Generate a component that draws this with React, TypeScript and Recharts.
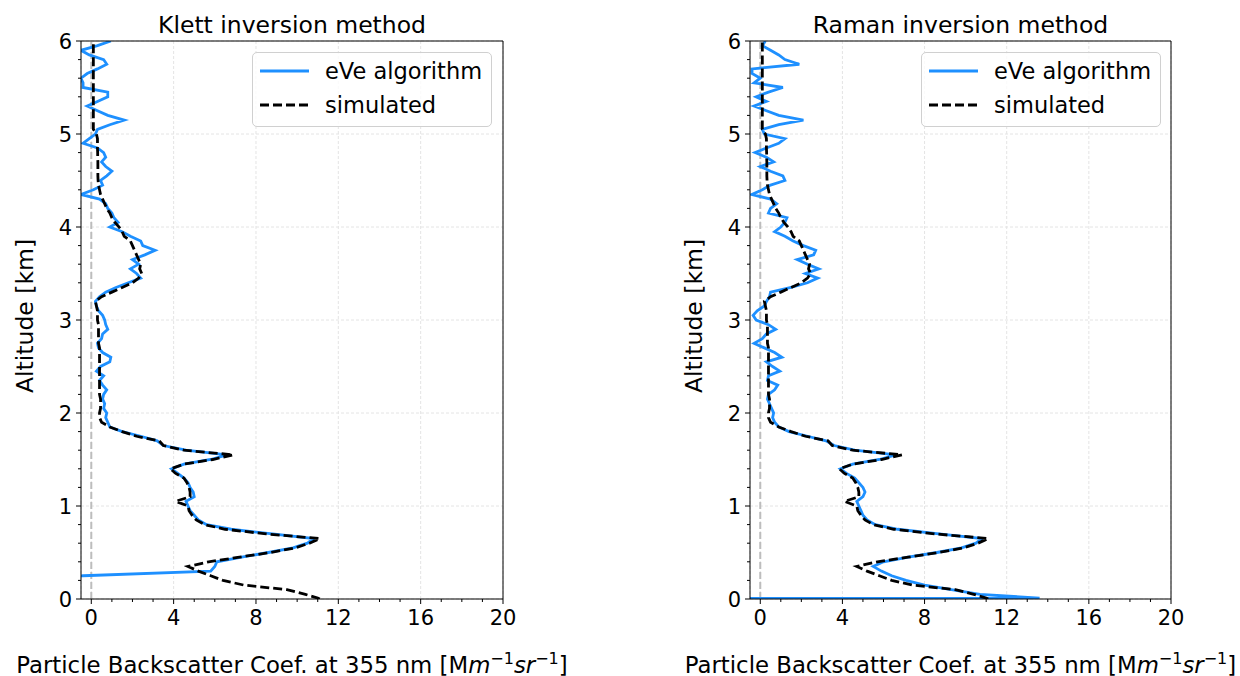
import React from 'react';
import { LineChart, Line, XAxis, YAxis, CartesianGrid, ReferenceLine } from 'recharts';

// altitude grid [km], bottom to top
const ALTITUDE = [
  0, 0.01, 0.05, 0.1, 0.15, 0.2, 0.25, 0.3, 0.35, 0.4, 0.45,
  0.5, 0.55, 0.6, 0.65, 0.7, 0.75, 0.8, 0.85, 0.9, 0.95,
  1.0, 1.05, 1.1, 1.15, 1.2, 1.25, 1.3, 1.35, 1.4, 1.45,
  1.5, 1.55, 1.6, 1.65, 1.7, 1.75, 1.8, 1.85, 1.9, 1.95,
  2.0, 2.05, 2.1, 2.15, 2.2, 2.25, 2.3, 2.35, 2.4, 2.45,
  2.5, 2.55, 2.6, 2.65, 2.7, 2.75, 2.8, 2.85, 2.9, 2.95,
  3.0, 3.05, 3.1, 3.15, 3.2, 3.25, 3.3, 3.35, 3.4, 3.45,
  3.5, 3.55, 3.6, 3.65, 3.7, 3.75, 3.8, 3.85, 3.9, 3.95,
  4.0, 4.05, 4.1, 4.15, 4.2, 4.25, 4.3, 4.35, 4.4, 4.45,
  4.5, 4.55, 4.6, 4.65, 4.7, 4.75, 4.8, 4.85, 4.9, 4.95,
  5.0, 5.05, 5.1, 5.15, 5.2, 5.25, 5.3, 5.35, 5.4, 5.45,
  5.5, 5.55, 5.6, 5.65, 5.7, 5.75, 5.8, 5.85, 5.9, 5.95,
  6.0,
];

// simulated backscatter (same profile in both panels)
const SIMULATED = [
  11.1, 11.0, 10.4, 9.5, 7.4, 6.4, 5.8, 5.2, 4.7, 5.7, 7.2,
  8.7, 9.9, 10.6, 11.1, 8.5, 6.5, 5.5, 5.1, 4.9, 4.75,
  4.7, 4.1, 4.8, 4.8, 4.75, 4.65, 4.5, 4.1, 3.85, 4.5,
  5.9, 6.9, 4.5, 3.5, 3.3, 2.2, 1.5, 0.9, 0.5, 0.4,
  0.4, 0.45, 0.45, 0.45, 0.4, 0.4, 0.4, 0.4, 0.4, 0.4,
  0.4, 0.4, 0.4, 0.4, 0.4, 0.35, 0.35, 0.35, 0.35, 0.35,
  0.3, 0.3, 0.3, 0.25, 0.2, 0.5, 1.0, 1.5, 2.0, 2.3,
  2.45, 2.35, 2.4, 2.3, 2.2, 2.1, 2.0, 1.9, 1.6, 1.5,
  1.35, 1.15, 1.0, 0.9, 0.75, 0.65, 0.55, 0.45, 0.4, 0.35,
  0.33, 0.32, 0.32, 0.32, 0.32, 0.31, 0.31, 0.3, 0.3, 0.3,
  0.25, 0.1, 0.1, 0.1, 0.1, 0.1, 0.1, 0.1, 0.1, 0.1,
  0.1, 0.1, 0.1, 0.1, 0.1, 0.1, 0.1, 0.1, 0.1, 0.1,
  0.1,
];

// eVe algorithm, Klett inversion
const KLETT_EVE = [
  -8, -8, -8, -8, -8, -8, -0.4, 5.8, 6.0, 6.1, 7.3,
  8.6, 9.8, 10.5, 10.8, 8.8, 6.8, 5.6, 5.2, 5.0, 4.8,
  4.7, 4.6, 5.0, 4.95, 4.8, 4.7, 4.5, 4.2, 3.9, 4.5,
  5.8, 6.6, 4.6, 3.5, 3.2, 2.4, 1.5, 0.9, 0.8, 0.7,
  0.75, 0.6, 0.65, 0.55, 0.6, 0.75, 0.55, 0.4, 0.6, 0.25,
  0.45, 0.9, 0.95, 0.55, 0.35, 0.3, 0.5, 0.55, 0.8, 0.7,
  0.65, 0.55, 0.35, 0.25, 0.2, 0.4, 0.7, 1.2, 1.8, 2.4,
  2.2, 1.9, 2.3, 2.0, 2.6, 3.1, 2.5, 2.4, 1.9, 1.5,
  0.9, 1.3, 1.1, 1.0, 0.8, 0.7, 0.4, -0.5, 0.1, 0.55,
  0.45, 0.75, 1.0, 0.7, 0.5, 0.7, 0.6, 0.3, -0.4, -0.1,
  0.2, 0.3, 0.9, 1.6, 0.8, 0.3, -0.2, 0.3, 0.8, 0.8,
  -0.4, -0.4, -0.5, -0.2, 0.3, 0.75, 0.6, -0.1, -0.5, 0.3,
  0.95,
];

// eVe algorithm, Raman inversion
const RAMAN_EVE = [
  -20, 13.6, 10.7, 9.3, 8.0, 7.1, 6.4, 5.9, 5.5, 6.0, 7.2,
  8.6, 9.8, 10.5, 10.8, 8.7, 6.7, 5.6, 5.2, 5.0, 4.9,
  4.8, 4.7, 5.0, 5.1, 5.0, 4.8, 4.6, 4.2, 3.9, 4.5,
  5.8, 6.6, 4.6, 3.6, 3.2, 2.3, 1.4, 0.9, 0.7, 0.6,
  0.65, 0.55, 0.45, 0.35, 0.4, 0.7, 0.85, 0.35, 0.4, 0.95,
  0.6, 0.3, 1.05, 0.7, 0.2, -0.3, 0.1, 0.3, 0.75, 0.4,
  -0.2, -0.35, -0.15, 0.2, 0.3, 0.45, 0.5, 1.5, 2.3, 2.8,
  2.2, 2.85, 2.3, 1.8, 2.6, 2.7, 2.1, 1.6, 1.2, 0.7,
  1.0, 1.2, 1.3, 0.4, 0.5, 0.8, 0.5, -0.4, 0.1, 0.5,
  1.2, 1.1, 0.5, 0.0, 0.65, 0.3, -0.25, 0.3, 0.9, 1.2,
  0.2, 0.1, 0.9, 2.1, 0.9, 0.3, -0.3, 0.3, -0.2, 0.4,
  1.1, -0.3, 0.0, -0.4, -0.4, 1.9, 1.2, 0.9, 0.5, 0.1,
  0.25,
];

const X_TICKS = [0, 1, 2, 3, 4, 5, 6, 7, 8, 9, 10, 11, 12, 13, 14, 15, 16, 17, 18, 19, 20];
const X_MAJOR = [0, 4, 8, 12, 16, 20];
const Y_TICKS = [
  0, 0.2, 0.4, 0.6, 0.8, 1, 1.2, 1.4, 1.6, 1.8, 2, 2.2, 2.4, 2.6, 2.8, 3,
  3.2, 3.4, 3.6, 3.8, 4, 4.2, 4.4, 4.6, 4.8, 5, 5.2, 5.4, 5.6, 5.8, 6,
];
const Y_MAJOR = [0, 1, 2, 3, 4, 5, 6];

const FONT = '"DejaVu Sans", sans-serif';
const BLUE = '#1e90ff';
const H = 676;
const LW = 2.8;

const XTick = (props: any) => {
  const { x, y, payload } = props;
  const v = payload.value;
  const major = v % 4 === 0;
  return (
    <g>
      <line x1={x} x2={x} y1={y} y2={y + (major ? 5 : 3)} stroke="#000" strokeWidth={1} />
      {major && (
        <text x={x} y={y + 26} textAnchor="middle" fontSize={21} fontFamily={FONT} fill="#000">
          {v}
        </text>
      )}
    </g>
  );
};

const YTick = (props: any) => {
  const { x, y, payload } = props;
  const v = payload.value;
  const major = Math.abs(v - Math.round(v)) < 1e-6;
  return (
    <g>
      <line x1={x - (major ? 5 : 3)} x2={x} y1={y} y2={y} stroke="#000" strokeWidth={1} />
      {major && (
        <text x={x - 9} y={y} dy="0.36em" textAnchor="end" fontSize={21} fontFamily={FONT} fill="#000">
          {Math.round(v)}
        </text>
      )}
    </g>
  );
};

interface PanelProps {
  left: number;
  width: number;
  title: string;
  eve: number[];
}

const Panel: React.FC<PanelProps> = ({ left, width, title, eve }) => {
  const rows = ALTITUDE.map((alt, i) => ({ alt, eve: eve[i], sim: SIMULATED[i] }));
  const cx = (81 + width - 17) / 2;

  return (
    <div style={{ position: 'absolute', left, top: 0, width, height: H }}>
      <LineChart
        width={width}
        height={H}
        layout="vertical"
        data={rows}
        margin={{ top: 40, right: 16, bottom: 47, left: 0 }}
      >
        <XAxis
          xAxisId="x"
          type="number"
          domain={[-0.5, 20]}
          ticks={X_TICKS}
          interval={0}
          allowDataOverflow
          height={30}
          tickSize={0}
          tickMargin={0}
          tickLine={false}
          tick={<XTick />}
          axisLine={{ stroke: '#000' }}
        />
        <YAxis
          yAxisId="y"
          type="number"
          dataKey="alt"
          domain={[0, 6]}
          ticks={Y_TICKS}
          interval={0}
          reversed
          allowDataOverflow
          width={81}
          tickSize={0}
          tickMargin={0}
          tickLine={false}
          tick={<YTick />}
          axisLine={{ stroke: '#000' }}
        />
        <XAxis
          xAxisId="top"
          orientation="top"
          type="number"
          domain={[-0.5, 20]}
          ticks={X_MAJOR}
          allowDataOverflow
          height={1}
          tick={false}
          tickLine={false}
          axisLine={{ stroke: '#000' }}
        />
        <YAxis
          yAxisId="right"
          orientation="right"
          type="number"
          domain={[0, 6]}
          ticks={Y_MAJOR}
          reversed
          allowDataOverflow
          width={1}
          tick={false}
          tickLine={false}
          axisLine={{ stroke: '#000' }}
        />
        <XAxis xAxisId="grid" type="number" domain={[-0.5, 20]} ticks={X_MAJOR} allowDataOverflow height={0} hide />
        <YAxis
          yAxisId="grid"
          type="number"
          dataKey="alt"
          domain={[0, 6]}
          ticks={Y_MAJOR}
          reversed
          allowDataOverflow
          width={0}
          hide
        />
        <CartesianGrid xAxisId="grid" yAxisId="grid" stroke="#e4e4e4" strokeDasharray="3 2" />

        <ReferenceLine xAxisId="x" yAxisId="y" x={0} stroke="#bdbdbd" strokeWidth={2} strokeDasharray="7 3" />

        <Line
          xAxisId="x"
          yAxisId="y"
          dataKey="eve"
          type="linear"
          stroke={BLUE}
          strokeWidth={LW}
          dot={false}
          activeDot={false}
          isAnimationActive={false}
        />
        <Line
          xAxisId="x"
          yAxisId="y"
          dataKey="sim"
          type="linear"
          stroke="#000"
          strokeWidth={LW}
          strokeDasharray="9 4"
          dot={false}
          activeDot={false}
          isAnimationActive={false}
        />
      </LineChart>

      <svg
        width={width}
        height={H}
        style={{ position: 'absolute', left: 0, top: 0, pointerEvents: 'none', overflow: 'visible' }}
        fontFamily={FONT}
      >
        <text x={cx} y={33} textAnchor="middle" fontSize={23.5} fill="#000">
          {title}
        </text>
        <text transform={`translate(33, 316) rotate(-90)`} textAnchor="middle" fontSize={23.5} fill="#000">
          Altitude [km]
        </text>
        <text x={cx} y={673} textAnchor="middle" fontSize={22.8} fill="#000">
          Particle Backscatter Coef. at 355 nm [M
          <tspan fontStyle="italic">m</tspan>
          <tspan dy={-9} fontSize={16}>−1</tspan>
          <tspan dy={9} fontStyle="italic">sr</tspan>
          <tspan dy={-9} fontSize={16}>−1</tspan>
          <tspan dy={9}>]</tspan>
        </text>
      </svg>

      <div
        style={{
          position: 'absolute',
          left: 252,
          top: 52,
          width: 238,
          height: 73,
          border: '1px solid #d0d0d0',
          borderRadius: 5,
          background: 'rgba(255,255,255,0.8)',
          fontFamily: FONT,
          fontSize: 22.5,
        }}
      >
        <svg width={60} height={73} style={{ position: 'absolute', left: 0, top: 0 }}>
          <line x1={7} x2={56} y1={18} y2={18} stroke={BLUE} strokeWidth={LW} />
          <line x1={7} x2={56} y1={52} y2={52} stroke="#000" strokeWidth={LW} strokeDasharray="9 4" />
        </svg>
        <div style={{ position: 'absolute', left: 72, top: 4, lineHeight: '28px' }}>eVe algorithm</div>
        <div style={{ position: 'absolute', left: 72, top: 38, lineHeight: '28px' }}>simulated</div>
      </div>
    </div>
  );
};

const App: React.FC = () => {
  return (
    <div style={{ position: 'absolute', left: 0, top: 0, width: 1240, height: H, background: '#fff' }}>
      <Panel left={0} width={520} title="Klett inversion method" eve={KLETT_EVE} />
      <Panel left={669} width={519} title="Raman inversion method" eve={RAMAN_EVE} />
    </div>
  );
};

export default App;
